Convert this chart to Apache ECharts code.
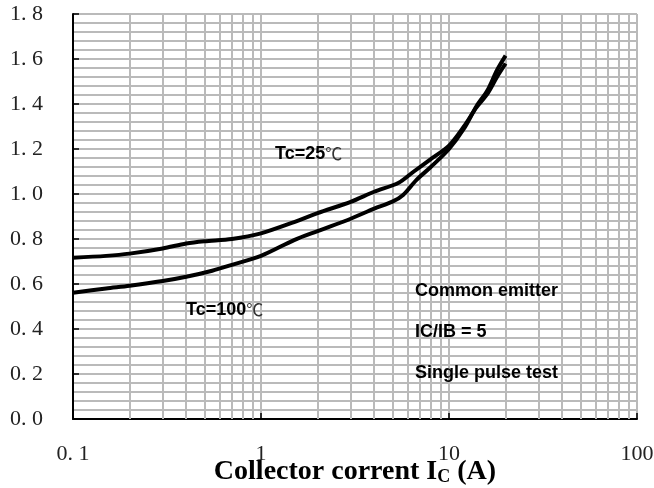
<!DOCTYPE html>
<html>
<head>
<meta charset="utf-8">
<script src="https://cdn.jsdelivr.net/npm/echarts@6/dist/echarts.min.js"></script>
<style>html,body{margin:0;padding:0;background:#fff}#c{width:654px;height:488px}</style>
</head>
<body>
<div id="c"></div>
<script>
// Collector current (A) and VCE(sat) (V)
var tc25I = [0.1, 0.15, 0.2, 0.3, 0.4, 0.5, 0.7, 1.0, 1.5, 2.0, 3.0, 4.0, 5.4, 6.5, 8.0, 10, 12, 14, 16, 18, 20];
var tc25V = [0.717, 0.725, 0.735, 0.758, 0.78, 0.79, 0.80, 0.825, 0.875, 0.915, 0.965, 1.01, 1.05, 1.10, 1.155, 1.215, 1.30, 1.385, 1.445, 1.52, 1.58];
var tc100I = [0.1, 0.15, 0.2, 0.3, 0.4, 0.55, 0.7, 1.0, 1.5, 2.0, 3.0, 4.0, 5.0, 5.7, 6.7, 8.0, 10, 12, 14, 16, 18, 20];
var tc100V = [0.561, 0.58, 0.592, 0.613, 0.632, 0.659, 0.685, 0.725, 0.795, 0.835, 0.89, 0.935, 0.966, 0.996, 1.062, 1.12, 1.20, 1.29, 1.39, 1.46, 1.55, 1.615];
// minor vertical grid positions on the log axis
var xMinorGrid = [0.2,0.3,0.4,0.5,0.6,0.7,0.8,0.9,2,3,4,5,6,7,8,9,20,30,40,50,60,70,80,90];
var xTickLabels = {0.1: '0. 1', 1: '1', 10: '10', 100: '100'};

function pairs(xs, ys) { return xs.map(function (x, i) { return [x, ys[i]]; }); }

var gridColor = '#bababa';
var el = document.getElementById('c');
var chart = echarts.init(el, null, { width: 654, height: 488 });
chart.setOption({
  animation: false,
  grid: { left: 73, top: 14, right: 17, bottom: 69, containLabel: false, outerBoundsMode: 'none' },
  xAxis: {
    type: 'log', logBase: 10, min: 0.1, max: 100,
    axisLine: { lineStyle: { color: '#000', width: 2 } },
    axisTick: { inside: true, length: 6, lineStyle: { color: '#000', width: 1.5 } },
    axisLabel: {
      margin: 24, color: '#222', fontFamily: 'Liberation Serif', fontSize: 22,
      formatter: function (v) { var k = +v.toPrecision(3); return xTickLabels[k] !== undefined ? xTickLabels[k] : ''; }
    },
    splitLine: { show: true, lineStyle: { color: gridColor, width: 2 } },
    name: '{a|Collector corrent I}{s|C}{a| (A)}',
    nameLocation: 'middle', nameGap: 37, nameMoveOverlap: false,
    nameTextStyle: {
      rich: {
        a: { fontFamily: 'Liberation Serif', fontWeight: 'bold', fontSize: 28, color: '#000', lineHeight: 30, verticalAlign: 'bottom' },
        s: { fontFamily: 'Liberation Serif', fontWeight: 'bold', fontSize: 18, color: '#000', lineHeight: 18, padding: [15, 0, 0, 0], verticalAlign: 'bottom' }
      }
    }
  },
  yAxis: {
    type: 'value', min: 0, max: 1.8, interval: 0.2,
    axisLine: { show: true, lineStyle: { color: '#000', width: 2 } },
    axisTick: { show: true, inside: true, length: 6, lineStyle: { color: '#000', width: 1.5 } },
    axisLabel: {
      margin: 30, color: '#222', fontFamily: 'Liberation Serif', fontSize: 22,
      formatter: function (v) { return v.toFixed(1).replace('.', '. '); }
    },
    splitLine: { show: true, lineStyle: { color: gridColor, width: 2 } },
    minorTick: { show: false, splitNumber: 5 },
    minorSplitLine: { show: true, lineStyle: { color: gridColor, width: 2 } }
  },
  series: [
    {
      type: 'line', data: pairs(tc25I, tc25V), z: 1, silent: true,
      showSymbol: false, lineStyle: { opacity: 0 },
      markLine: {
        silent: true, symbol: 'none', animation: false,
        label: { show: false },
        lineStyle: { color: gridColor, width: 2, type: 'solid' },
        data: xMinorGrid.map(function (v) { return { xAxis: v }; })
      }
    },
    {
      name: 'Tc=25', type: 'line', data: pairs(tc25I, tc25V), z: 5,
      showSymbol: false, smooth: 0.3,
      lineStyle: { color: '#000', width: 4 }
    },
    {
      name: 'Tc=100', type: 'line', data: pairs(tc100I, tc100V), z: 5,
      showSymbol: false, smooth: 0.3,
      lineStyle: { color: '#000', width: 4 }
    }
  ],
  graphic: [
    { type: 'text', left: 275, top: 145, z: 10, style: { text: '{b|Tc=25}{c|℃}', rich: {
      b: { fontFamily: 'Liberation Sans', fontWeight: 'bold', fontSize: 18, fill: '#000' },
      c: { fontFamily: 'Noto Sans CJK SC', fontSize: 17, fill: '#333' } } } },
    { type: 'text', left: 186, top: 301, z: 10, style: { text: '{b|Tc=100}{c|℃}', rich: {
      b: { fontFamily: 'Liberation Sans', fontWeight: 'bold', fontSize: 18, fill: '#000' },
      c: { fontFamily: 'Noto Sans CJK SC', fontSize: 17, fill: '#333' } } } },
    { type: 'text', left: 415, top: 282, z: 10, style: { text: 'Common emitter', fontFamily: 'Liberation Sans', fontWeight: 'bold', fontSize: 18, fill: '#000' } },
    { type: 'text', left: 415, top: 323, z: 10, style: { text: 'IC/IB = 5', fontFamily: 'Liberation Sans', fontWeight: 'bold', fontSize: 18, fill: '#000' } },
    { type: 'text', left: 415, top: 364, z: 10, style: { text: 'Single pulse test', fontFamily: 'Liberation Sans', fontWeight: 'bold', fontSize: 18, fill: '#000' } }
  ]
});
</script>
</body>
</html>
